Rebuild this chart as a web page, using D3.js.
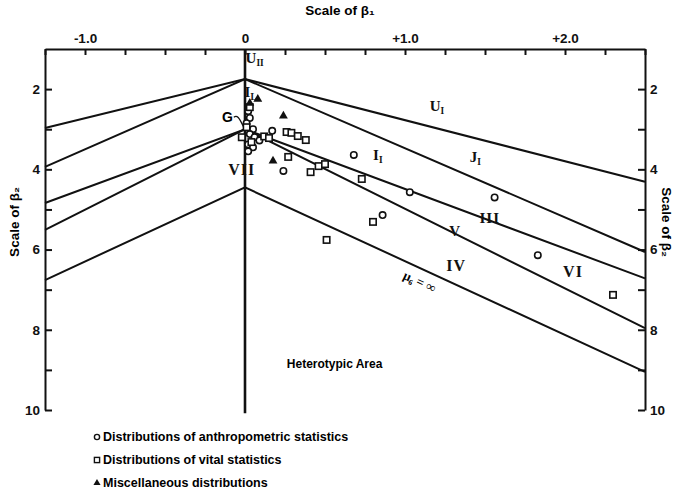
<!DOCTYPE html>
<html><head><meta charset="utf-8">
<script src="https://cdn.jsdelivr.net/npm/d3@7"></script>
<style>
body{margin:0;background:#fff}
svg{display:block}
.ax text{font-family:"Liberation Sans",Arial,sans-serif;font-weight:bold;font-size:13.5px;fill:#111}
.ax path,.ax line{stroke:#111;stroke-width:2}
</style></head><body>
<svg id="chart" width="682" height="496"></svg>
<script>
// Tick positions on the β1 (top) and β2 (sides) scales
const beta1Ticks = [-1.25,-1,-0.75,-0.5,-0.25,0,0.25,0.5,0.75,1,1.25,1.5,1.75,2,2.25,2.5];
const beta1Labels = {"-1":"-1.0","0":"0","1":"+1.0","2":"+2.0"};
const beta2Ticks = [2,3,4,5,6,7,8,9,10];
const beta2Labels = [2,4,6,8,10];

// Boundary lines of the curve types, as [β1, β2] vertices
const lineU = [[-1.25,2.97],[0,1.75],[2.5,4.31]];
const lineJ = [[-1.25,3.94],[0,1.75],[2.5,6.06]];
const lineIII = [[-1.25,4.84],[0,3.0],[2.5,6.72]];
const lineV = [[-1.25,5.51],[0,3.0],[2.5,7.96]];
const lineMu6 = [[-1.25,6.76],[0,4.45],[2.5,9.05]];
const lineAxis = [[0,1],[0,10.08]];

// Observed distributions [β1, β2]
const anthropometric = [
  [0.17,3.04],[0.68,3.64],[0.24,4.04],[0.86,5.14],[1.03,4.57],[1.56,4.7],[1.83,6.14],
  [0.02,2.55],[0.03,2.72],[0.01,2.85],[0.05,3.0],[0.03,3.12],[0.06,3.2],[0.09,3.28],
  [0.02,3.38],[0.05,3.45],[0.02,3.55]
];
const vital = [
  [0.80,5.31],[0.51,5.76],[0.73,4.24],[0.41,4.07],[0.46,3.92],[0.50,3.87],[0.27,3.69],
  [0.26,3.07],[0.29,3.09],[0.33,3.17],[0.38,3.27],[2.30,7.13],
  [0.03,2.45],[0.01,2.95],[-0.02,3.2],[0.04,3.32],[0.12,3.18],[0.15,3.22]
];
const miscellaneous = [[0.175,3.79],[0.24,2.67],[0.08,2.25],[0.03,2.35]];

const legendItems = ["Distributions of anthropometric statistics","Distributions of vital statistics","Miscellaneous distributions"];

const svg = d3.select("#chart");
const x = d3.scaleLinear().domain([-1.25,2.5]).range([45,645]);
const y = d3.scaleLinear().domain([1,10]).range([49,410]);

// axes
svg.append("g").attr("class","ax").attr("transform",`translate(0,${y(1)})`)
  .call(d3.axisTop(x).tickValues(beta1Ticks).tickSize(-6).tickSizeOuter(0).tickPadding(6)
    .tickFormat(d => beta1Labels[String(d)] || ""));
svg.append("g").attr("class","ax").attr("transform",`translate(${x(-1.25)},0)`)
  .call(d3.axisLeft(y).tickValues(beta2Ticks).tickSize(-7).tickSizeOuter(0).tickPadding(5)
    .tickFormat(d => beta2Labels.includes(d) ? d : ""));
svg.append("g").attr("class","ax").attr("transform",`translate(${x(2.5)},0)`)
  .call(d3.axisRight(y).tickValues(beta2Ticks).tickSize(-7).tickSizeOuter(0).tickPadding(5)
    .tickFormat(d => beta2Labels.includes(d) ? d : ""));
svg.selectAll(".ax .domain").attr("stroke-width",2.2);

const line = d3.line().x(d => x(d[0])).y(d => y(d[1]));
[lineU,lineJ,lineIII,lineV,lineMu6].forEach(l =>
  svg.append("path").attr("d",line(l)).attr("fill","none").attr("stroke","#111").attr("stroke-width",2));
svg.append("path").attr("d",line(lineAxis)).attr("fill","none").attr("stroke","#111").attr("stroke-width",2.6);

// axis titles
const sans = "'Liberation Sans',Arial,sans-serif";
svg.append("text").attr("x",340).attr("y",15).attr("text-anchor","middle")
  .attr("font-family",sans).attr("font-weight","bold").attr("font-size",13.5).text("Scale of β₁");
svg.append("text").attr("transform","translate(19,222) rotate(-90)").attr("text-anchor","middle")
  .attr("font-family",sans).attr("font-weight","bold").attr("font-size",13.5).text("Scale of β₂");
svg.append("text").attr("transform","translate(662,222) rotate(90)").attr("text-anchor","middle")
  .attr("font-family",sans).attr("font-weight","bold").attr("font-size",13.5).text("Scale of β₂");

// region labels, anchored in β1/β2 units
const serif = "'Liberation Serif','Times New Roman',serif";
const regionLabels = [
  {t:"U",s:"II",at:[0.06,1.35],size:15},
  {t:"I",s:"L",at:[0.035,2.2],size:15},
  {t:"VII",s:"",at:[-0.02,4.15],size:16},
  {t:"U",s:"I",at:[1.2,2.55],size:15},
  {t:"I",s:"I",at:[0.83,3.77],size:15},
  {t:"J",s:"I",at:[1.44,3.82],size:15},
  {t:"III",s:"",at:[1.53,5.34],size:15},
  {t:"V",s:"",at:[1.31,5.66],size:15},
  {t:"IV",s:"",at:[1.32,6.54],size:16},
  {t:"VI",s:"",at:[2.05,6.69],size:16},
];
regionLabels.forEach(r => {
  const t = svg.append("text").attr("x",x(r.at[0])).attr("y",y(r.at[1])).attr("text-anchor","middle")
    .attr("font-family",serif).attr("font-weight","bold").attr("font-size",r.size).attr("fill","#111")
    .attr("letter-spacing",r.t.length>1?1:0).text(r.t);
  if (r.s) t.append("tspan").attr("font-size",r.size*0.62).attr("dy",3).text(r.s);
});
// normal point G with its leader
svg.append("text").attr("x",x(-0.11)).attr("y",y(2.82)).attr("text-anchor","middle")
  .attr("font-family",sans).attr("font-weight","bold").attr("font-size",14).text("G");
const gp = d3.path();
gp.moveTo(x(-0.07),y(2.7)); gp.bezierCurveTo(x(-0.04),y(2.62),x(-0.03),y(2.8),x(0),y(3));
svg.append("path").attr("d",gp.toString()).attr("fill","none").attr("stroke","#111").attr("stroke-width",1.3);
// μ6 = ∞ along its line
const a = Math.atan2(y(9.05)-y(4.45), x(2.5)-x(0))*180/Math.PI;
svg.append("text").attr("transform",`translate(${x(1.08)},${y(6.9)}) rotate(${a})`).attr("text-anchor","middle")
  .attr("font-family",serif).attr("font-weight","bold").attr("font-size",13).text("μ₆ = ∞");
svg.append("text").attr("x",x(0.56)).attr("y",y(8.95)).attr("text-anchor","middle")
  .attr("font-family",sans).attr("font-weight","bold").attr("font-size",12).text("Heterotypic Area");

// points
const pts = svg.append("g");
pts.selectAll("circle").data(anthropometric).join("circle")
  .attr("cx",d=>x(d[0])).attr("cy",d=>y(d[1])).attr("r",3.2)
  .attr("fill","#fff").attr("stroke","#111").attr("stroke-width",1.6);
pts.selectAll("rect").data(vital).join("rect")
  .attr("x",d=>x(d[0])-3.2).attr("y",d=>y(d[1])-3.2).attr("width",6.4).attr("height",6.4)
  .attr("fill","#fff").attr("stroke","#111").attr("stroke-width",1.6);
const tri = d3.symbol().type(d3.symbolTriangle).size(34);
pts.selectAll("path.tri").data(miscellaneous).join("path").attr("class","tri")
  .attr("transform",d=>`translate(${x(d[0])},${y(d[1])})`).attr("d",tri).attr("fill","#111");

// legend
const lg = svg.append("g").attr("transform","translate(97,0)");
const rows = [441,464,487];
lg.append("circle").attr("cx",0).attr("cy",rows[0]-4).attr("r",2.6).attr("fill","#fff").attr("stroke","#111").attr("stroke-width",1.4);
lg.append("rect").attr("x",-2.6).attr("y",rows[1]-6.6).attr("width",5.2).attr("height",5.2).attr("fill","#fff").attr("stroke","#111").attr("stroke-width",1.4);
lg.append("path").attr("transform",`translate(0,${rows[2]-4})`).attr("d",d3.symbol().type(d3.symbolTriangle).size(22)).attr("fill","#111");
lg.selectAll("text").data(legendItems).join("text").attr("x",6).attr("y",(d,i)=>rows[i])
  .attr("font-family",sans).attr("font-weight","bold").attr("font-size",12.5).text(d=>d);
</script></body></html>
